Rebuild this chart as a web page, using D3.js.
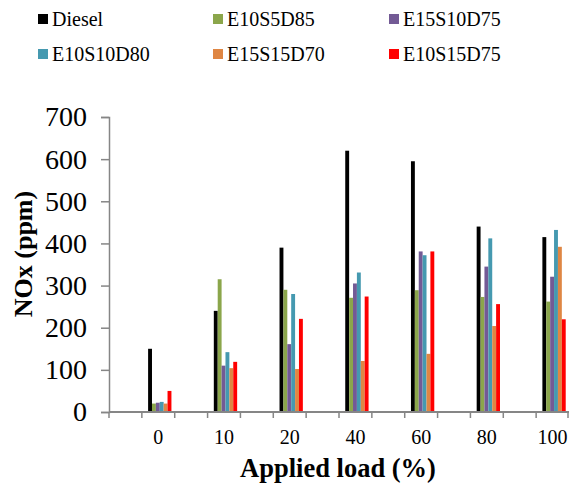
<!DOCTYPE html>
<html>
<head>
<meta charset="utf-8">
<script src="https://cdn.jsdelivr.net/npm/d3@7"></script>
<style>
  html, body { margin: 0; padding: 0; background: #fff; }
  svg { display: block; }
</style>
</head>
<body>
<svg id="chart" width="569" height="486"></svg>
<script>
const loads = ["0", "10", "20", "40", "60", "80", "100"];
const seriesNames = ["Diesel", "E10S5D85", "E15S10D75", "E10S10D80", "E15S15D70", "E10S15D75"];
const seriesColors = ["#000000", "#8BA64B", "#735A95", "#4599B0", "#DF8643", "#FF0000"];
const diesel    = [150, 240, 390, 620, 595, 440, 415];
const e10s5d85  = [20, 315, 290, 271, 289, 273, 262];
const e15s10d75 = [22, 110, 161, 305, 381, 345, 321];
const e10s10d80 = [24, 142, 280, 331, 372, 412, 432];
const e15s15d70 = [20, 104, 102, 121, 138, 204, 392];
const e10s15d75 = [50, 119, 221, 274, 381, 256, 220];
const yTicks = [0, 100, 200, 300, 400, 500, 600, 700];

const seriesValues = [diesel, e10s5d85, e15s10d75, e10s10d80, e15s15d70, e10s15d75];
const FONT = "Liberation Serif";

const svg = d3.select("#chart");
const margin = { left: 109, right: 0, top: 117, bottom: 74 };
const W = 569, H = 486;
const y0 = H - margin.bottom; // 412

const x = d3.scaleBand().domain(loads).range([margin.left, W]).padding(0);
const half = x.bandwidth() / 2;
const inner = d3.scaleBand().domain(seriesNames).range([half * 0.19, half * 0.9]).padding(0);
const y = d3.scaleLinear().domain([0, 700]).range([y0, margin.top]);

const axisColor = "#868686";

// bars
seriesNames.forEach((name, si) => {
  svg.append("g").selectAll("rect")
    .data(loads.map((l, i) => ({ load: l, v: seriesValues[si][i] })))
    .join("rect")
    .attr("x", d => x(d.load) + half + inner(name))
    .attr("width", inner.bandwidth())
    .attr("y", d => y(d.v))
    .attr("height", d => y0 - y(d.v))
    .attr("fill", seriesColors[si]);
});

// y axis
const yAxis = d3.axisLeft(y).tickValues(yTicks).tickSize(8).tickPadding(14).tickFormat(d3.format("d"));
const gy = svg.append("g").attr("transform", `translate(${margin.left},0)`).call(yAxis);
gy.attr("font-family", FONT);
gy.select(".domain").attr("stroke", axisColor).attr("stroke-width", 1.5);
gy.selectAll(".tick line").attr("stroke", axisColor).attr("stroke-width", 1.5);
gy.selectAll(".tick text").style("font-family", FONT).attr("font-size", 28).attr("fill", "#000");

// x axis (custom: ticks at band edges and mid-bands, labels centered on right half)
const gx = svg.append("g");
gx.append("line").attr("x1", margin.left).attr("x2", W).attr("y1", y0).attr("y2", y0)
  .attr("stroke", axisColor).attr("stroke-width", 2);
const tickXs = [];
loads.forEach(l => { tickXs.push(x(l)); tickXs.push(x(l) + half); });
tickXs.push(W - 1);
gx.selectAll("line.tk").data(tickXs).join("line").attr("class", "tk")
  .attr("x1", d => d).attr("x2", d => d).attr("y1", y0).attr("y2", y0 + 6)
  .attr("stroke", axisColor).attr("stroke-width", 1.5);
gx.selectAll("text").data(loads).join("text")
  .attr("x", d => x(d) + half * 1.5)
  .attr("y", y0 + 32)
  .attr("text-anchor", "middle")
  .style("font-family", FONT)
  .attr("font-size", 20)
  .attr("fill", "#000")
  .text(d => d);

// axis titles
svg.append("text")
  .attr("x", 338).attr("y", 477)
  .attr("text-anchor", "middle")
  .style("font-family", FONT)
  .attr("font-size", 26.5).attr("font-weight", "bold")
  .text("Applied load (%)");
svg.append("text")
  .attr("transform", "translate(32,254) rotate(-90)")
  .attr("text-anchor", "middle")
  .style("font-family", FONT)
  .attr("font-size", 26).attr("font-weight", "bold")
  .text("NOx (ppm)");

// legend
const legCols = [38, 213, 389];
const legRows = [14, 49];
const leg = svg.append("g");
seriesNames.forEach((name, i) => {
  const cx = legCols[i % 3], cy = legRows[Math.floor(i / 3)];
  leg.append("rect").attr("x", cx).attr("y", cy).attr("width", 10).attr("height", 10).attr("fill", seriesColors[i]);
  leg.append("text").attr("x", cx + 14).attr("y", cy + 12)
    .style("font-family", FONT).attr("font-size", 20).attr("fill", "#000").text(name);
});
</script>
</body>
</html>
